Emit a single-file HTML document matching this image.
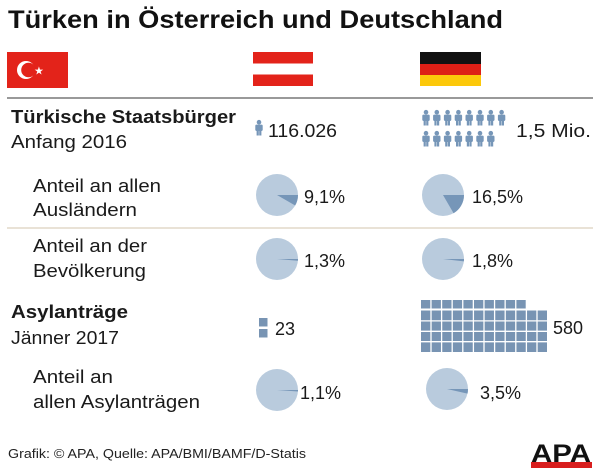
<!DOCTYPE html>
<html><head><meta charset="utf-8"><style>
html,body{margin:0;padding:0;background:#fff;}
svg{display:block;font-family:"Liberation Sans",sans-serif;}
</style></head><body>
<svg width="600" height="471" viewBox="0 0 600 471" xmlns="http://www.w3.org/2000/svg">
<defs>
<g id="p"><circle cx="4" cy="2.2" r="2.3" fill="#7696b8"/><rect x="0.3" y="4.6" width="7.4" height="6.4" rx="1.2" fill="#7696b8"/><rect x="1.6" y="9" width="2.2" height="6.5" fill="#7696b8"/><rect x="4.2" y="9" width="2.2" height="6.5" fill="#7696b8"/></g>
</defs>
<text x="8" y="28" font-size="25" font-weight="bold" fill="#111" textLength="495" lengthAdjust="spacingAndGlyphs">Türken in Österreich und Deutschland</text>
<!-- flags -->
<rect x="7" y="52" width="61" height="36" fill="#e3231a"/>
<circle cx="26" cy="70" r="9" fill="#fff"/><circle cx="28.5" cy="70" r="7.3" fill="#e3231a"/>
<text x="34" y="74.5" font-size="11" fill="#fff">★</text>
<rect x="253" y="52" width="60" height="34" fill="#e3231a"/><rect x="253" y="63.5" width="60" height="11" fill="#fff"/>
<rect x="420" y="52" width="61" height="12" fill="#111"/><rect x="420" y="64" width="61" height="11" fill="#dd1f16"/><rect x="420" y="75" width="61" height="11" fill="#fcc80a"/>
<line x1="7" y1="98" x2="593" y2="98" stroke="#333" stroke-width="1"/>
<line x1="7" y1="228" x2="593" y2="228" stroke="#e9e2d6" stroke-width="2"/>
<g fill="#1a1a1a" font-size="18">
<text x="11" y="123" font-weight="bold" textLength="225" lengthAdjust="spacingAndGlyphs">Türkische Staatsbürger</text>
<text x="11" y="148" textLength="116" lengthAdjust="spacingAndGlyphs">Anfang 2016</text>
<text x="33" y="192" textLength="128" lengthAdjust="spacingAndGlyphs">Anteil an allen</text>
<text x="33" y="216" textLength="104" lengthAdjust="spacingAndGlyphs">Ausländern</text>
<text x="33" y="252" textLength="114" lengthAdjust="spacingAndGlyphs">Anteil an der</text>
<text x="33" y="277" textLength="113" lengthAdjust="spacingAndGlyphs">Bevölkerung</text>
<text x="11" y="318" font-weight="bold" textLength="117" lengthAdjust="spacingAndGlyphs">Asylanträge</text>
<text x="11" y="344" textLength="108" lengthAdjust="spacingAndGlyphs">Jänner 2017</text>
<text x="33" y="383" textLength="80" lengthAdjust="spacingAndGlyphs">Anteil an</text>
<text x="33" y="408" textLength="167" lengthAdjust="spacingAndGlyphs">allen Asylanträgen</text>
<text x="268" y="137" textLength="69" lengthAdjust="spacingAndGlyphs">116.026</text>
<text x="516" y="137" textLength="75" lengthAdjust="spacingAndGlyphs">1,5 Mio.</text>
<text x="304" y="203">9,1%</text>
<text x="472" y="203">16,5%</text>
<text x="304" y="267">1,3%</text>
<text x="472" y="267">1,8%</text>
<text x="275" y="335">23</text>
<text x="553" y="334">580</text>
<text x="300" y="399">1,1%</text>
<text x="480" y="399">3,5%</text>
</g>
<!-- persons -->
<use href="#p" x="255" y="120"/>
<g><use href="#p" x="422" y="110"/><use href="#p" x="432.8" y="110"/><use href="#p" x="443.6" y="110"/><use href="#p" x="454.4" y="110"/><use href="#p" x="465.2" y="110"/><use href="#p" x="476" y="110"/><use href="#p" x="486.8" y="110"/><use href="#p" x="497.6" y="110"/></g>
<g><use href="#p" x="422" y="131"/><use href="#p" x="432.8" y="131"/><use href="#p" x="443.6" y="131"/><use href="#p" x="454.4" y="131"/><use href="#p" x="465.2" y="131"/><use href="#p" x="476" y="131"/><use href="#p" x="486.8" y="131"/></g>
<!-- pies -->
<g fill="#b9cbdd">
<circle cx="277" cy="195" r="21"/><circle cx="443" cy="195" r="21"/>
<circle cx="277" cy="259" r="21"/><circle cx="443" cy="259" r="21"/>
<circle cx="277" cy="390" r="21"/><circle cx="447" cy="389" r="21"/>
</g>
<g fill="#7696b8">
<path d="M277 195 L298 195 A21 21 0 0 1 295.2 205.5 Z"/>
<path d="M443 195 L464 195 A21 21 0 0 1 453.6 213.2 Z"/>
<path d="M277 259 L298 259 A21 21 0 0 1 297.9 260.7 Z"/>
<path d="M443 259 L464 259 A21 21 0 0 1 463.9 261.4 Z"/>
<path d="M277 390 L298 390 A21 21 0 0 1 297.95 391.5 Z"/>
<path d="M447 389 L468 389 A21 21 0 0 1 467.5 393.6 Z"/>
</g>
<!-- squares -->
<g fill="#7894b3">
<rect x="259" y="318" width="8.5" height="8.5"/><rect x="259" y="329" width="8.5" height="8.5"/>
</g>
<g fill="#7894b3">
<rect x="421" y="300" width="9.3" height="8.5"/><rect x="431.6" y="300" width="9.3" height="8.5"/><rect x="442.2" y="300" width="9.3" height="8.5"/><rect x="452.8" y="300" width="9.3" height="8.5"/><rect x="463.4" y="300" width="9.3" height="8.5"/><rect x="474" y="300" width="9.3" height="8.5"/><rect x="484.6" y="300" width="9.3" height="8.5"/><rect x="495.2" y="300" width="9.3" height="8.5"/><rect x="505.8" y="300" width="9.3" height="8.5"/><rect x="516.4" y="300" width="9.3" height="8.5"/>
<rect x="421" y="310.5" width="126" height="41.5"/>
</g>
<g stroke="#fff" stroke-width="1.3">
<line x1="421" y1="320.9" x2="547" y2="320.9"/><line x1="421" y1="331.3" x2="547" y2="331.3"/><line x1="421" y1="341.7" x2="547" y2="341.7"/>
<line x1="431" y1="310" x2="431" y2="352"/><line x1="441.6" y1="310" x2="441.6" y2="352"/><line x1="452.2" y1="310" x2="452.2" y2="352"/><line x1="462.8" y1="310" x2="462.8" y2="352"/><line x1="473.4" y1="310" x2="473.4" y2="352"/><line x1="484" y1="310" x2="484" y2="352"/><line x1="494.6" y1="310" x2="494.6" y2="352"/><line x1="505.2" y1="310" x2="505.2" y2="352"/><line x1="515.8" y1="310" x2="515.8" y2="352"/><line x1="526.4" y1="310" x2="526.4" y2="352"/><line x1="537" y1="310" x2="537" y2="352"/>
</g>
<!-- footer -->
<text x="8" y="458" font-size="13" fill="#222" textLength="298" lengthAdjust="spacingAndGlyphs">Grafik: © APA, Quelle: APA/BMI/BAMF/D-Statis</text>
<text x="531" y="462" font-size="25" font-weight="bold" fill="#111" textLength="60" lengthAdjust="spacingAndGlyphs">APA</text>
<rect x="531" y="462" width="61" height="6" fill="#d81e1e"/>
</svg>
</body></html>
